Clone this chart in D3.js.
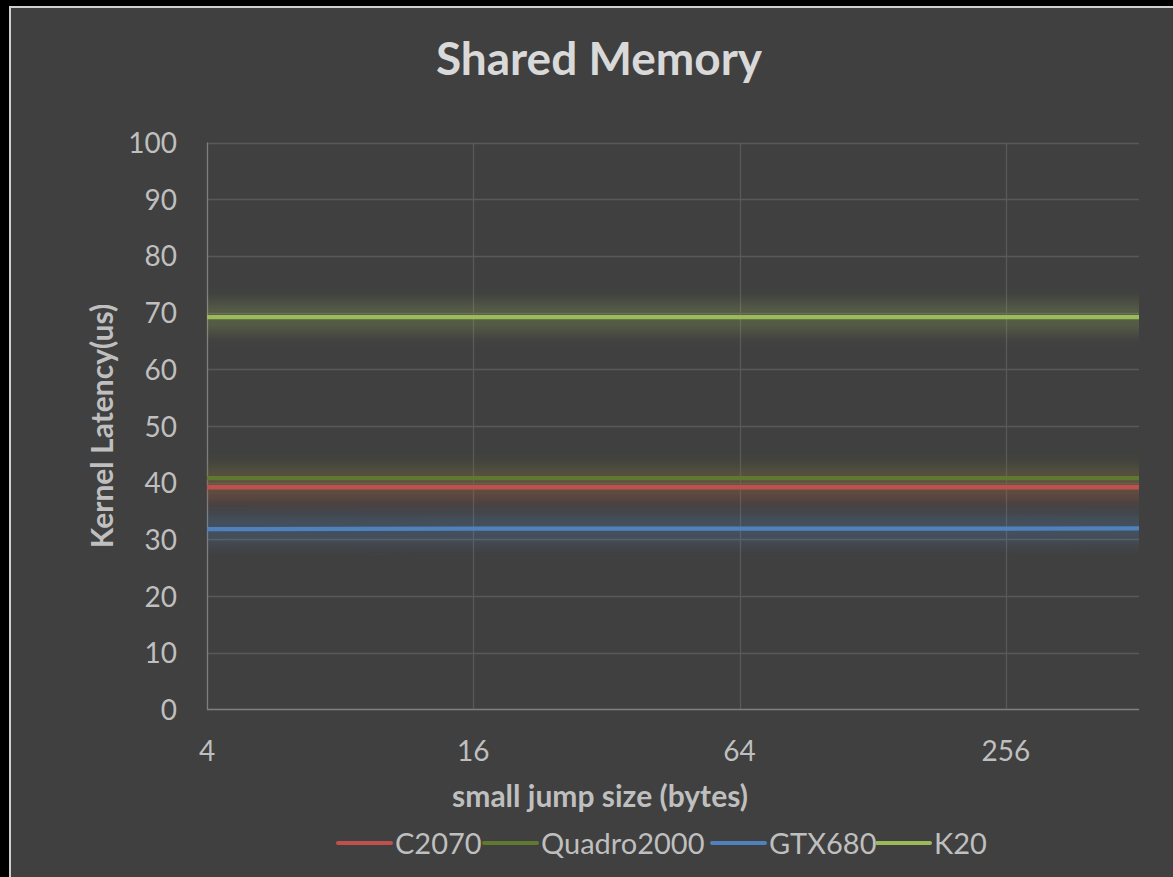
<!DOCTYPE html>
<html>
<head>
<meta charset="utf-8">
<script src="https://cdn.jsdelivr.net/npm/d3@7"></script>
<style>
  html, body { margin: 0; padding: 0; background: #000; }
  svg { display: block; }
</style>
</head>
<body>
<svg id="chart" width="1173" height="877"></svg>
<script>
// Jump sizes in bytes (log2 axis)
const jumpSizes = [4, 8, 16, 32, 64, 128, 256, 512];
const xTicks = [4, 16, 64, 256];
const yTicks = [0, 10, 20, 30, 40, 50, 60, 70, 80, 90, 100];

// Kernel latency (us) per GPU
const seriesNames = ["C2070", "Quadro2000", "GTX680", "K20"];
const c2070 = [39.2, 39.2, 39.2, 39.2, 39.2, 39.2, 39.2, 39.2];
const quadro2000 = [40.8, 40.8, 40.8, 40.8, 40.8, 40.8, 40.8, 40.8];
const gtx680 = [31.8, 31.85, 31.9, 31.9, 31.9, 31.9, 31.9, 31.95];
const k20 = [69.2, 69.2, 69.2, 69.2, 69.2, 69.2, 69.2, 69.2];
const seriesColors = ["#c0504d", "#5f7a30", "#4f81bd", "#9bbb59"];

const series = [c2070, quadro2000, gtx680, k20].map((vals, i) => ({
  name: seriesNames[i],
  color: seriesColors[i],
  values: vals.map((v, j) => ({ x: jumpSizes[j], y: v }))
}));

const svg = d3.select("#chart");
const W = 1173, H = 877;
const font = "Lato, 'Open Sans', sans-serif";

// Panel
svg.append("rect").attr("x", 0).attr("y", 0).attr("width", W).attr("height", H).attr("fill", "#000");
svg.append("rect").attr("x", 10).attr("y", 7).attr("width", W).attr("height", H)
  .attr("fill", "#404040").attr("stroke", "#d0d0d0").attr("stroke-width", 2);

const plot = { left: 207, right: 1139, top: 142.5, bottom: 709.5 };

const x = d3.scaleLog().base(2).domain([4, 512]).range([plot.left, plot.right]);
const y = d3.scaleLinear().domain([0, 100]).range([plot.bottom, plot.top]);

// Soft glow behind each series line (vertical blur only)
const defs = svg.append("defs");
const f = defs.append("filter").attr("id", "glow")
  .attr("filterUnits", "userSpaceOnUse")
  .attr("x", 0).attr("y", 0).attr("width", W).attr("height", H);
f.append("feGaussianBlur").attr("stdDeviation", "0 7");

// Horizontal gridlines
svg.append("g").selectAll("line").data(yTicks.filter(d => d > 0)).join("line")
  .attr("x1", plot.left).attr("x2", plot.right)
  .attr("y1", d => Math.round(y(d)) + 0.5).attr("y2", d => Math.round(y(d)) + 0.5)
  .attr("stroke", "#595959").attr("stroke-width", 1.3);

// Vertical gridlines
svg.append("g").selectAll("line").data(xTicks.filter(d => d > 4)).join("line")
  .attr("x1", d => Math.round(x(d)) + 0.5).attr("x2", d => Math.round(x(d)) + 0.5)
  .attr("y1", plot.top).attr("y2", plot.bottom)
  .attr("stroke", "#595959").attr("stroke-width", 1.3);

// Axis lines
svg.append("line").attr("x1", plot.left + 0.5).attr("x2", plot.left + 0.5)
  .attr("y1", plot.top).attr("y2", plot.bottom).attr("stroke", "#7f7f7f").attr("stroke-width", 1.3);
svg.append("line").attr("x1", plot.left).attr("x2", plot.right)
  .attr("y1", plot.bottom).attr("y2", plot.bottom).attr("stroke", "#7f7f7f").attr("stroke-width", 1.3);

const line = d3.line().x(d => x(d.x)).y(d => y(d.y));

// Glows
svg.append("g").selectAll("path").data(series).join("path")
  .attr("d", d => line(d.values))
  .attr("fill", "none")
  .attr("stroke", d => d.color)
  .attr("stroke-width", 30)
  .attr("stroke-opacity", 0.24)
  .attr("filter", "url(#glow)");

// Lines
svg.append("g").selectAll("path").data(series).join("path")
  .attr("d", d => line(d.values))
  .attr("fill", "none")
  .attr("stroke", d => d.color)
  .attr("stroke-width", 4.3)
  .attr("stroke-linejoin", "round");

// Y tick labels
svg.append("g").selectAll("text").data(yTicks).join("text")
  .attr("x", 177).attr("y", d => y(d) + 10.5)
  .attr("text-anchor", "end")
  .attr("font-family", font).attr("font-size", 28).attr("fill", "#bfbfbf")
  .text(d => d);

// X tick labels
svg.append("g").selectAll("text").data(xTicks).join("text")
  .attr("x", d => x(d)).attr("y", 761)
  .attr("text-anchor", "middle")
  .attr("font-family", font).attr("font-size", 28).attr("fill", "#bfbfbf")
  .text(d => d);

// Title
svg.append("text").attr("x", 599).attr("y", 75).attr("text-anchor", "middle")
  .attr("font-family", font).attr("font-weight", "bold").attr("font-size", 46)
  .attr("fill", "#d9d9d9").text("Shared Memory");

// Axis titles
svg.append("text").attr("x", 600).attr("y", 807).attr("text-anchor", "middle")
  .attr("font-family", font).attr("font-weight", "bold").attr("font-size", 30)
  .attr("fill", "#bfbfbf").text("small jump size (bytes)");
svg.append("text").attr("transform", "translate(113,426) rotate(-90)")
  .attr("text-anchor", "middle")
  .attr("font-family", font).attr("font-weight", "bold").attr("font-size", 30)
  .attr("fill", "#bfbfbf").text("Kernel Latency(us)");

// Legend
const legendX = [337, 483, 711, 876];
const lg = svg.append("g").selectAll("g").data(series).join("g")
  .attr("transform", (d, i) => `translate(${legendX[i]},843)`);
lg.append("line").attr("x1", 1).attr("x2", 54).attr("y1", 0).attr("y2", 0)
  .attr("stroke", d => d.color).attr("stroke-width", 4).attr("stroke-linecap", "round");
lg.append("text").attr("x", 58).attr("y", 10.5)
  .attr("font-family", font).attr("font-size", 29).attr("fill", "#bfbfbf")
  .text(d => d.name);
</script>
</body>
</html>
